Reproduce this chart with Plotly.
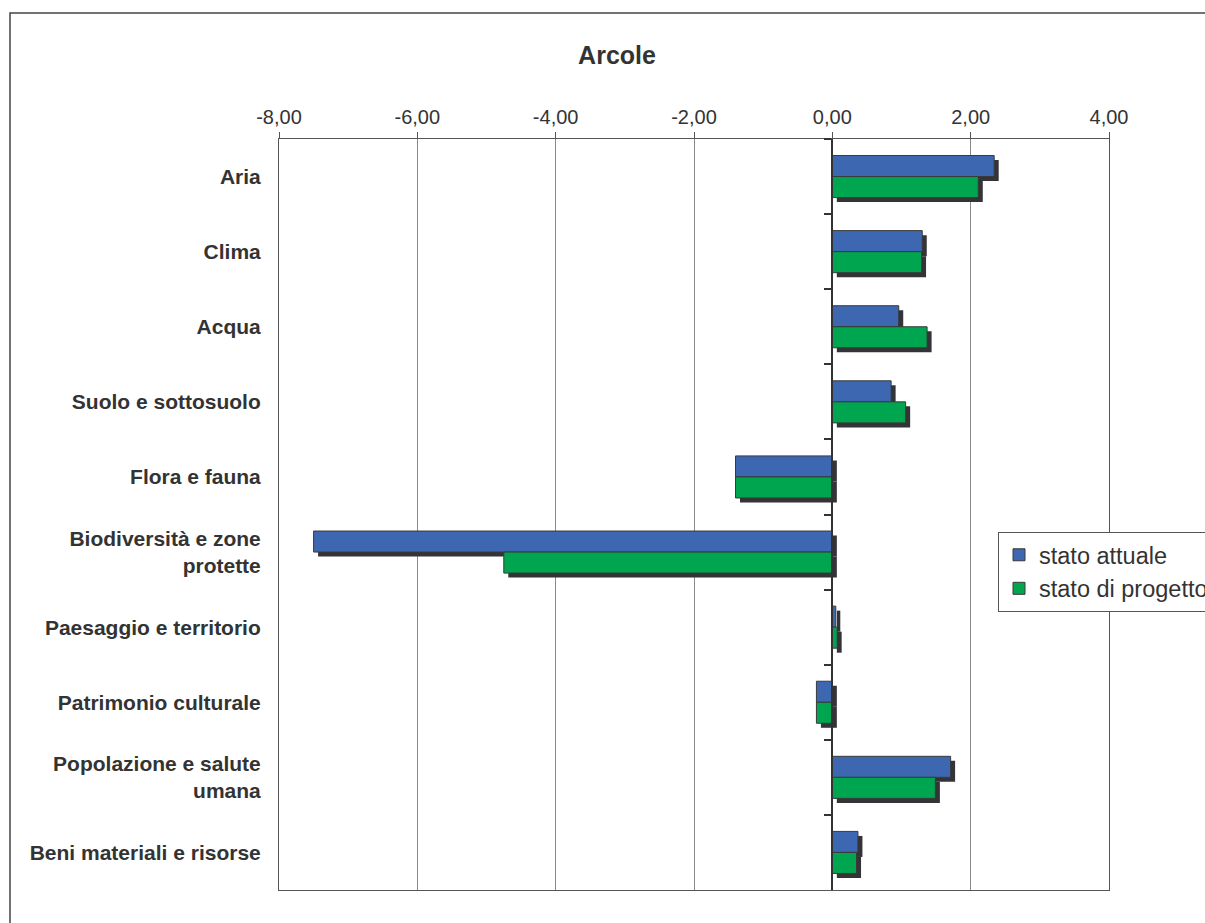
import plotly.graph_objects as go

categories = ["Aria", "Clima", "Acqua", "Suolo e sottosuolo", "Flora e fauna",
              "Biodiversità e zone<br>protette", "Paesaggio e territorio",
              "Patrimonio culturale", "Popolazione e salute<br>umana",
              "Beni materiali e risorse"]
stato_attuale = [2.34, 1.30, 0.96, 0.85, -1.40, -7.50, 0.05, -0.23, 1.71, 0.37]
stato_progetto = [2.11, 1.29, 1.37, 1.06, -1.40, -4.75, 0.07, -0.23, 1.49, 0.35]
series_names = ["stato attuale", "stato di progetto"]
x_tickvals = [-8, -6, -4, -2, 0, 2, 4]
x_ticktext = ["-8,00", "-6,00", "-4,00", "-2,00", "0,00", "2,00", "4,00"]

BLUE = "#3D67B1"
GREEN = "#00A54F"
SHADOW = "#333338"
OUTLINE = "#3a3a3a"
TEXT = "#333333"
FONT = "Liberation Sans"

# body margin is removed by post_script: figure pixel = screen pixel
W, H = 1205, 923
ML, MR, MT, MB = 279, 96, 139, 33
BAR_W = 0.28
SH_X = 0.065   # shadow shift in x units
SH_Y = 0.06    # shadow shift in category units

fig = go.Figure()

# shadows (bottom layer)
for vals, off in [(stato_attuale, -BAR_W), (stato_progetto, 0.0)]:
    fig.add_trace(go.Bar(
        y=categories, x=vals, base=SH_X, orientation="h",
        width=BAR_W, offset=off + SH_Y,
        marker=dict(color=SHADOW, line=dict(width=0)),
        showlegend=False, hoverinfo="skip", yaxis="y",
    ))

# main bars (overlaying axis at x=0)
for vals, off, col, name in [(stato_attuale, -BAR_W, BLUE, series_names[0]),
                             (stato_progetto, 0.0, GREEN, series_names[1])]:
    fig.add_trace(go.Bar(
        y=categories, x=vals, orientation="h", name=name,
        width=BAR_W, offset=off,
        marker=dict(color=col, line=dict(color=OUTLINE, width=1)),
        yaxis="y2",
    ))

plot_w = W - ML - MR
plot_h = H - MT - MB
xmin, xmax = -8, 4

def px_x(p):
    return (p - ML) / plot_w

def px_y(p):
    return (H - MB - p) / plot_h

fig.update_layout(
    width=W, height=H,
    margin=dict(l=ML, r=MR, t=MT, b=MB, autoexpand=False),
    paper_bgcolor="white", plot_bgcolor="white",
    barmode="overlay",
    font=dict(family=FONT, color=TEXT),
    title=dict(text="<b>Arcole</b>", x=617 / W, xanchor="center",
               y=1 - 55 / H, yanchor="middle", yref="container",
               font=dict(size=25, family=FONT, color=TEXT)),
    xaxis=dict(
        side="top", range=[xmin, xmax], tickvals=x_tickvals, ticktext=x_ticktext,
        ticks="outside", ticklen=6, tickcolor="#555555",
        showgrid=True, gridcolor="#8a8a8a", gridwidth=1,
        showline=True, mirror=True, linecolor="#555555", linewidth=1,
        zeroline=False, tickfont=dict(size=20, family=FONT, color=TEXT),
    ),
    yaxis=dict(
        type="category", categoryorder="array", categoryarray=categories,
        range=[len(categories) - 0.5, -0.5],
        showline=True, mirror=True, linecolor="#555555", linewidth=1,
        ticks="", showgrid=False, zeroline=False,
        ticklabelstandoff=13,
        tickfont=dict(size=21, family=FONT, color=TEXT, weight="bold"),
    ),
    yaxis2=dict(
        type="category", categoryorder="array", categoryarray=categories,
        range=[len(categories) - 0.5, -0.5],
        overlaying="y", anchor="free", position=(0 - xmin) / (xmax - xmin),
        side="left", showline=True, linecolor="#333333", linewidth=2,
        ticks="outside", tickson="boundaries", ticklen=7, tickwidth=2,
        tickcolor="#333333", showticklabels=False, showgrid=False, zeroline=False,
    ),
    legend=dict(
        x=px_x(998), y=px_y(532), xanchor="left", yanchor="top",
        bgcolor="white", bordercolor="#555555", borderwidth=1,
        font=dict(size=23.5, family=FONT, color=TEXT), traceorder="normal",
    ),
    shapes=[dict(type="rect", xref="paper", yref="paper",
                 x0=px_x(10), x1=px_x(1300), y0=px_y(13), y1=px_y(1000),
                 line=dict(color="#444444", width=1.5), fillcolor="rgba(0,0,0,0)",
                 layer="below")],
)

fig.write_html(
    "out.html",
    config={"displayModeBar": False},
    post_script="document.body.style.margin='0';document.body.style.overflow='hidden';",
)
